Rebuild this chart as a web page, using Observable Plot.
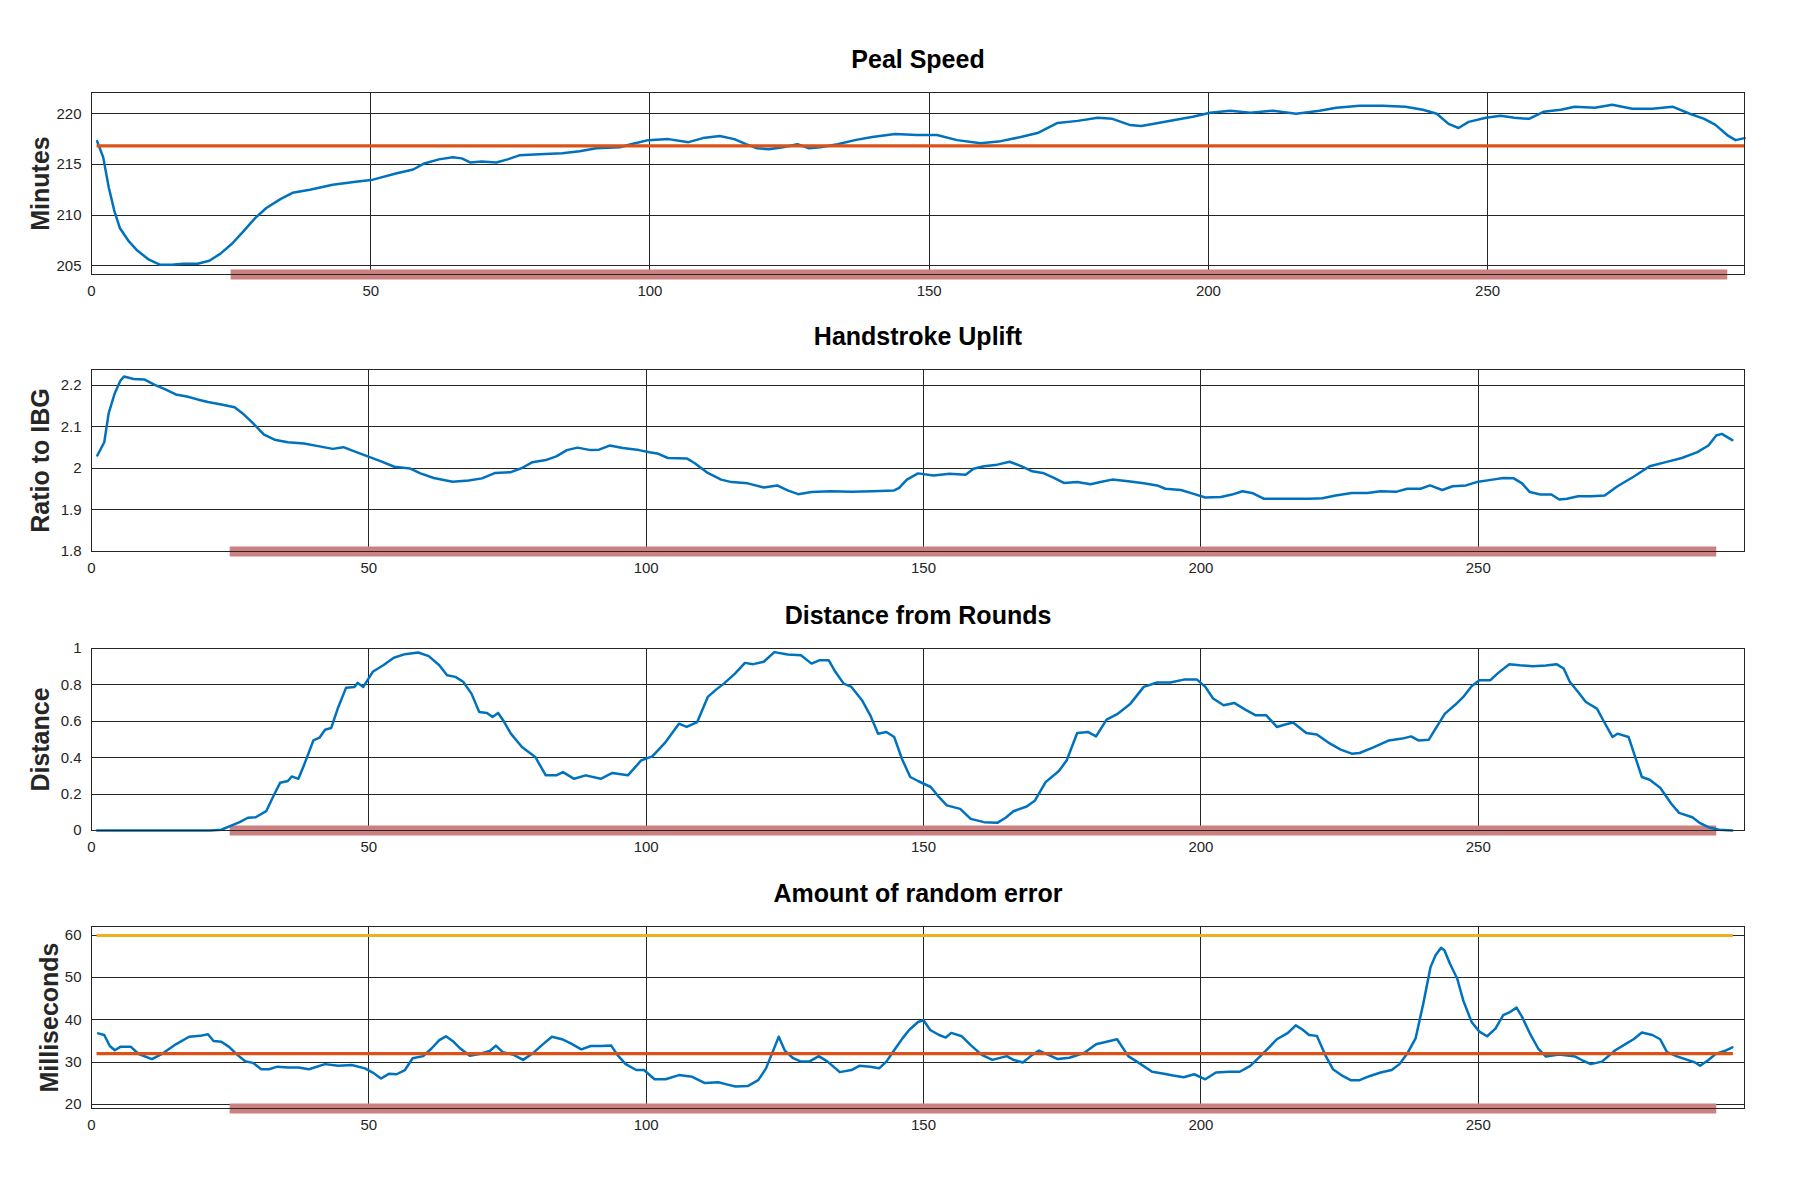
<!DOCTYPE html>
<html>
<head>
<meta charset="utf-8">
<script src="https://cdn.jsdelivr.net/npm/d3@7"></script>
<script src="https://cdn.jsdelivr.net/npm/@observablehq/plot@0.6"></script>
<style>
  html, body { margin: 0; padding: 0; background: #fff; }
  #chart { position: relative; width: 1800px; height: 1200px; background: #fff; }
  #chart svg { position: absolute; left: 0; }
</style>
</head>
<body>
<div id="chart"></div>
<script>
// ---------- data ----------
const xTicks = [0, 50, 100, 150, 200, 250];

const titles = ["Peal Speed", "Handstroke Uplift", "Distance from Rounds", "Amount of random error"];
const yLabels = ["Minutes", "Ratio to IBG", "Distance", "Milliseconds"];

// Peal Speed
const pealX = [1,2.1,3.1,4.1,5.1,6.7,8.2,10.3,12.3,14.4,16.4,19,21.1,23.1,25.2,27.2,29.3,31.3,33.9,36,39.1,43.2,47.3,50.4,54.5,57.6,59.6,62.2,64.7,66.3,67.8,69.9,72.5,74.5,76.6,80.2,84.3,87.4,90.4,94.6,96.6,99.7,103.3,106.9,109.5,112.5,115.1,117.2,119.2,121.3,123.8,126.4,128.5,130.5,133.6,136.7,139.8,143.9,147.8,151.4,155,159.2,162.8,166.4,169.4,173,176.6,180.2,182.8,185.9,188,191,195.2,197.2,200.3,203.9,207.5,211.6,215.7,219.9,222.9,227.1,231.2,235.3,238.4,240.9,243,244.8,246.6,249.7,252.3,254.8,257.4,260,263.1,265.6,269.2,272.3,275.9,279.5,283.1,286.2,288.8,290.8,292.9,294.4,296];
const pealMinutes = [217.3,215.7,212.7,210.4,208.7,207.4,206.5,205.6,205.1,205.1,205.2,205.2,205.5,206.2,207.2,208.4,209.7,210.7,211.6,212.2,212.5,213.0,213.3,213.5,214.1,214.5,215.1,215.5,215.7,215.6,215.2,215.3,215.2,215.5,215.9,216.0,216.1,216.3,216.6,216.7,217.0,217.4,217.5,217.2,217.6,217.8,217.5,217.0,216.6,216.5,216.7,217.0,216.6,216.7,217.0,217.4,217.7,218.0,217.9,217.9,217.4,217.1,217.3,217.7,218.1,219.1,219.3,219.6,219.5,218.9,218.8,219.1,219.5,219.7,220.1,220.3,220.1,220.3,220.0,220.3,220.6,220.8,220.8,220.7,220.4,220.0,219.0,218.6,219.2,219.6,219.8,219.6,219.5,220.2,220.4,220.7,220.6,220.9,220.5,220.5,220.7,220.0,219.5,218.9,217.9,217.4,217.6];
const pealMean = 216.83;
const pealYTicks = [205, 210, 215, 220];
const pealYDomain = [204.14, 222.1];

// Handstroke Uplift
const upliftX = [1.05,2.3,3.1,4.2,5.2,5.85,7.6,9.5,11.4,13.3,15.2,17.2,19.1,21,23.4,25.8,27.2,29.1,31.1,33,35.4,38.3,41.1,43.5,45.4,47.4,49.8,52.2,54.6,57.4,59.3,61.7,65.1,68,70.4,72.8,75.6,77.6,79.5,81.9,83.8,85.7,87.6,90,91.5,93.4,95.8,98.7,100.6,102,103.9,107.3,108.7,111.1,113.5,115.4,118.3,121.2,123.6,125.5,127.4,129.8,133.2,137,140.8,144.7,145.6,147,149,151.8,154.7,157.6,159,160.9,163.3,165.5,167.7,169.6,171.5,173.5,175.3,177.7,180.1,182.1,184,186.9,189.7,192.1,193.6,196.4,198.4,200.8,203.6,205.6,207.5,209.4,211.3,215.6,219.5,221.9,224.3,227.2,230,232.4,235.3,237.2,239.6,241.3,243.5,245.4,247.8,249.7,252.6,254.5,256.4,257.9,259.3,261.2,263.2,264.6,266,268,270.4,272.8,275.1,278,280.9,283.8,286.7,289.5,291.5,292.9,293.9,295.8];
const upliftRatio = [2.031,2.063,2.133,2.181,2.211,2.221,2.215,2.214,2.201,2.190,2.178,2.173,2.166,2.160,2.154,2.147,2.133,2.109,2.081,2.069,2.063,2.060,2.053,2.047,2.051,2.041,2.029,2.017,2.004,2.000,1.988,1.977,1.968,1.971,1.976,1.989,1.991,2.001,2.015,2.020,2.029,2.044,2.050,2.044,2.045,2.055,2.049,2.044,2.039,2.036,2.025,2.024,2.013,1.989,1.973,1.967,1.964,1.954,1.959,1.947,1.938,1.943,1.945,1.944,1.945,1.947,1.953,1.973,1.988,1.983,1.987,1.985,1.999,2.005,2.009,2.016,2.005,1.993,1.989,1.977,1.965,1.967,1.962,1.968,1.973,1.969,1.964,1.959,1.951,1.948,1.940,1.930,1.931,1.937,1.945,1.940,1.927,1.927,1.927,1.928,1.935,1.941,1.941,1.945,1.944,1.951,1.951,1.959,1.948,1.957,1.959,1.967,1.973,1.977,1.976,1.964,1.943,1.937,1.937,1.925,1.927,1.933,1.933,1.935,1.957,1.980,2.005,2.015,2.025,2.039,2.055,2.079,2.083,2.068];
const upliftYTicks = [1.8, 1.9, 2, 2.1, 2.2];
const upliftYDomain = [1.8, 2.238];

// Distance from Rounds
const distX = [1,21.5,23.4,25.3,26.7,28.2,29.6,31.5,33,34,35.4,36.1,37.3,38.3,40,41.1,42.1,43.2,44.5,45.9,47.4,48,49,50.7,52.6,54.5,56.5,58.9,60.8,62.7,64.1,65.6,67,68.5,69.9,71.3,72.3,73.3,74.2,75.6,77.6,80,81.9,83.8,85,87,89.1,91.8,93.9,96.7,99.1,101.1,103.5,105.9,107.3,109.2,111.1,112.6,114,116,117.8,119.3,121.2,123.1,125.5,127.9,129.8,131.3,132.9,134.1,135.6,137,138.9,140.4,141.8,143.3,144.7,146.1,147.6,149,151.3,152.8,154.2,156.6,158.5,160.9,163.3,164.8,166.2,168.6,170.1,172,174.4,175.8,177.7,179.7,181.1,183,184.9,187.3,189.7,192.1,194.5,196.9,199.3,200.8,202.2,204.1,206,208,209.9,211.8,213.7,215.2,216.6,219,220.9,223.3,225.2,227.2,228.6,231,233.9,236.3,237.9,239.2,241.1,242.5,244,245.9,247.3,248.8,250.2,252.2,253.6,255.6,257.5,259.8,262.2,264.1,265.4,266.5,268,269.4,271.4,272.7,274.2,275.1,277.1,278.2,279.5,280.9,282.8,284.8,286.2,288.6,290,291.5,293.4,295.8];
const distValue = [0,0,0.004,0.028,0.046,0.07,0.073,0.106,0.202,0.262,0.272,0.297,0.284,0.358,0.495,0.51,0.554,0.563,0.679,0.785,0.789,0.811,0.789,0.872,0.908,0.949,0.969,0.978,0.958,0.908,0.853,0.844,0.817,0.752,0.651,0.646,0.624,0.646,0.606,0.532,0.459,0.404,0.303,0.303,0.321,0.284,0.303,0.284,0.316,0.303,0.385,0.407,0.486,0.587,0.569,0.596,0.734,0.774,0.807,0.862,0.921,0.914,0.927,0.98,0.967,0.963,0.917,0.936,0.936,0.872,0.807,0.789,0.716,0.633,0.532,0.541,0.514,0.394,0.294,0.272,0.239,0.183,0.138,0.119,0.064,0.046,0.042,0.070,0.106,0.132,0.165,0.266,0.327,0.385,0.536,0.541,0.517,0.609,0.639,0.697,0.789,0.813,0.813,0.829,0.829,0.789,0.725,0.688,0.701,0.664,0.633,0.633,0.569,0.582,0.593,0.536,0.528,0.477,0.444,0.422,0.426,0.455,0.495,0.505,0.517,0.495,0.499,0.569,0.642,0.692,0.734,0.793,0.826,0.826,0.866,0.914,0.908,0.903,0.906,0.914,0.89,0.817,0.761,0.706,0.670,0.596,0.514,0.532,0.514,0.413,0.294,0.279,0.235,0.147,0.097,0.073,0.04,0.018,0.004,0];
const distYTicks = [0, 0.2, 0.4, 0.6, 0.8, 1];
const distYDomain = [0, 1];

// Amount of random error
const errX = [1.2,2.3,3.3,4.2,5.2,7.1,8.5,10.9,12.8,15.2,17.6,19.6,21,22,23.4,24.8,26.3,27.7,29.1,30.6,32,33.5,35.4,37.3,39.2,42.1,44.5,46.9,49.3,50.7,52.2,53.6,55,56.5,57.9,59.8,61.3,62.7,63.9,65.1,66.5,68.2,69.9,71.8,72.9,74.2,76.1,77.8,79.5,81.2,83,84.8,86.4,88.3,90,91.9,93.7,94.8,96.3,98.2,99.6,101.5,103.5,105.9,108.3,110.6,113,114.5,116.1,118.3,120.2,121.6,122.8,123.9,125,126.5,127.9,129.4,131.1,132.7,134.9,137,138.4,140.4,142,143.3,144.7,146.2,147.4,149,150,151.2,152.8,154,155,156.9,158.5,160.5,162.4,165,166.2,167.9,169.6,170.8,172.5,174.2,176.3,179,181.1,183,184.9,186.9,188.8,191.2,193.1,195,196.9,198.8,200.8,202.7,205.1,207,208.9,210.4,211.8,213.7,215.7,217.1,218.3,219.5,220.9,222.4,223.8,225.3,227,228.6,230.5,232.4,234.4,235.8,237.2,238.7,240.1,241.4,242.3,243.3,243.9,244.9,246.2,247.3,248.8,250.2,251.6,253.1,254.5,255.8,256.9,257.9,259.3,260.8,262.2,264.6,267.5,268.9,270.3,272.3,274.7,276.6,278,279.5,281.4,282.8,284,285.7,287.7,289.1,290,291.5,292.9,294.4,295.8];
const errMs = [36.8,36.4,33.8,32.8,33.6,33.6,31.9,30.7,32.0,34.2,36.0,36.2,36.6,35.0,34.8,33.6,31.7,30.2,29.8,28.3,28.3,28.9,28.7,28.7,28.3,29.5,29.1,29.3,28.5,27.5,26.1,27.2,27.1,28.1,30.9,31.4,33.2,35.2,36.1,35.0,33.2,31.5,31.9,32.6,33.9,32.3,31.7,30.5,32.0,34.0,36.0,35.4,34.4,33.0,33.8,33.8,33.9,31.7,29.5,28.1,28.1,25.9,25.9,26.9,26.5,25.0,25.2,24.7,24.2,24.3,25.7,28.5,32.4,36.0,32.7,30.9,30.1,30.1,31.4,30.1,27.6,28.1,29.1,28.9,28.5,30.1,32.8,35.6,37.6,39.5,39.9,37.6,36.4,35.8,36.9,36.1,34.0,31.7,30.5,31.4,30.5,29.9,31.7,32.7,31.7,30.7,31.0,32.2,34.2,34.8,35.4,31.4,29.8,27.7,27.3,26.8,26.4,27.1,25.9,27.5,27.7,27.7,29.1,31.0,32.8,35.4,36.9,38.7,37.7,36.4,36.2,31.7,28.3,26.9,25.7,25.7,26.7,27.5,28.1,29.5,32.0,35.6,43.9,52.5,55.3,57.1,56.5,53.3,49.8,44.6,39.5,37.2,36.1,37.9,41.1,41.9,42.9,40.7,36.8,33.2,31.3,31.8,31.3,30.3,29.5,30.1,32.8,34.3,35.4,37.0,36.4,35.4,32.4,31.4,30.5,29.9,29.1,30.5,32.0,32.6,33.5];
const errMean = 32.0;
const errLimit = 60;
const errYTicks = [20, 30, 40, 50, 60];
const errYDomain = [18.98, 62.13];

// reference-line extents and highlighted range
const refStart = 1, refEnd = 296;
const highlightStart = 25, highlightEnd = 293;
const xDomains = [[0, 296], [0, 298], [0, 298], [0, 298]];

// ---------- drawing ----------
const FONT = "'Liberation Sans', Arial, Helvetica, sans-serif";
const INK = "#262626";
const zip = (xs, ys) => xs.map((x, i) => ({x, y: ys[i]}));
const fmt = d => String(d);

const panels = [
  {rows: zip(pealX, pealMinutes), yDomain: pealYDomain, yTicks: pealYTicks,
   refs: [{y: pealMean, color: "#D95319"}], labelDx: -42.5, top: 32},
  {rows: zip(upliftX, upliftRatio), yDomain: upliftYDomain, yTicks: upliftYTicks,
   refs: [], labelDx: -42.5, top: 309},
  {rows: zip(distX, distValue), yDomain: distYDomain, yTicks: distYTicks,
   refs: [], labelDx: -42.5, top: 588},
  {rows: zip(errX, errMs), yDomain: errYDomain, yTicks: errYTicks,
   refs: [{y: errMean, color: "#D95319"}, {y: errLimit, color: "#EDB120"}], labelDx: -33.5, top: 866}
];

const chart = document.getElementById("chart");

panels.forEach((p, i) => {
  const bar = [{y: p.yDomain[0], x1: highlightStart, x2: highlightEnd}];
  const refs = p.refs.map(r => ({...r, x1: refStart, x2: refEnd}));
  const svg = Plot.plot({
    width: 1800,
    height: 282,
    marginTop: 60,
    marginBottom: 40,
    marginLeft: 91,
    marginRight: 56,
    style: {fontFamily: FONT, fontSize: "15px", color: INK, background: "transparent", overflow: "visible"},
    x: {domain: xDomains[i], label: null},
    y: {domain: p.yDomain, label: null},
    marks: [
      Plot.gridX(xTicks, {stroke: INK, strokeOpacity: 1, strokeWidth: 1, shapeRendering: "crispEdges"}),
      Plot.gridY(p.yTicks, {stroke: INK, strokeOpacity: 1, strokeWidth: 1, shapeRendering: "crispEdges"}),
      Plot.ruleY(bar, {y: "y", x1: "x1", x2: "x2", stroke: "#CC8080", strokeWidth: 10}),
      Plot.line(p.rows, {x: "x", y: "y", stroke: "#0072BD", strokeWidth: 2.5}),
      Plot.ruleY(refs, {y: "y", x1: "x1", x2: "x2", stroke: "color", strokeWidth: 3.2}),
      Plot.frame({stroke: INK, strokeWidth: 1.2, shapeRendering: "crispEdges"}),
      Plot.axisX(xTicks, {tickSize: 0, tickPadding: 11, fontSize: 15, fill: INK, label: null, tickFormat: fmt}),
      Plot.axisY(p.yTicks, {tickSize: 0, tickPadding: 10, fontSize: 15, fill: INK, label: null, tickFormat: fmt}),
      Plot.text([titles[i]], {text: d => d, frameAnchor: "top", dy: -25, lineAnchor: "bottom",
        fontSize: 25, fontWeight: "bold", fill: "#000"}),
      Plot.text([yLabels[i]], {text: d => d, frameAnchor: "left", dx: p.labelDx, rotate: -90,
        lineAnchor: "bottom", textAnchor: "middle", fontSize: 25, fontWeight: "bold", fill: INK})
    ]
  });
  svg.style.top = p.top + "px";
  chart.appendChild(svg);
});
</script>
</body>
</html>
